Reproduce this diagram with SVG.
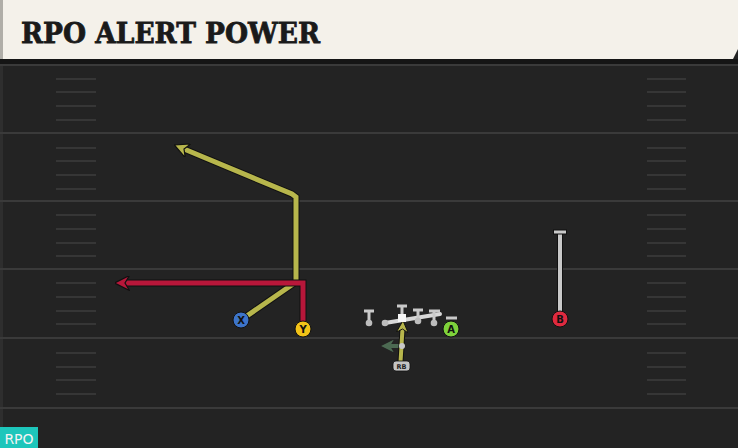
<svg xmlns="http://www.w3.org/2000/svg" width="738" height="448" viewBox="0 0 738 448">
<defs>
<style>
.yard{stroke:#3a3a3a;stroke-width:2}
.hash{stroke:#363636;stroke-width:2}
.out{fill:none;stroke:#111;stroke-width:7;stroke-linejoin:miter;stroke-linecap:butt}
.yel{fill:none;stroke:#b7b64c;stroke-width:5;stroke-linejoin:miter}
.red{fill:none;stroke:#b8173a;stroke-width:5;stroke-linejoin:miter}
.lbl{font-family:"DejaVu Sans",sans-serif;font-weight:bold;font-size:10px;fill:#111;text-anchor:middle}
</style>
<marker id="ahY" viewBox="0 0 10 10" refX="3" refY="5" markerWidth="3" markerHeight="3" orient="auto" markerUnits="strokeWidth">
<path d="M0,0 L10,5 L0,10 L3,5 Z" fill="#b7b64c" stroke="#111" stroke-width="0.8"/>
</marker>
<marker id="ahR" viewBox="0 0 10 10" refX="3" refY="5" markerWidth="3" markerHeight="3" orient="auto" markerUnits="strokeWidth">
<path d="M0,0 L10,5 L0,10 L3,5 Z" fill="#b8173a" stroke="#111" stroke-width="0.8"/>
</marker>
<marker id="ahG" viewBox="0 0 10 10" refX="3" refY="5" markerWidth="3.2" markerHeight="3.2" orient="auto" markerUnits="strokeWidth">
<path d="M0,0 L10,5 L0,10 L3,5 Z" fill="#4c6a52"/>
</marker>
</defs>

<!-- field -->
<rect x="0" y="0" width="738" height="448" fill="#232323"/>
<rect x="0" y="59" width="738" height="6" fill="#151515"/>
<rect x="0" y="65" width="3" height="383" fill="#2e2e2e"/>
<g id="field">
<line class="yard" x1="0" y1="65" x2="738" y2="65"/>
<line class="yard" x1="0" y1="133" x2="738" y2="133"/>
<line class="yard" x1="0" y1="201" x2="738" y2="201"/>
<line class="yard" x1="0" y1="269" x2="738" y2="269"/>
<line class="yard" x1="0" y1="338" x2="738" y2="338"/>
<line class="yard" x1="0" y1="408" x2="738" y2="408"/>
<g class="hash">
<line x1="56" y1="79" x2="96" y2="79"/><line x1="56" y1="92" x2="96" y2="92"/><line x1="56" y1="106" x2="96" y2="106"/><line x1="56" y1="120" x2="96" y2="120"/>
<line x1="56" y1="148" x2="96" y2="148"/><line x1="56" y1="161" x2="96" y2="161"/><line x1="56" y1="175" x2="96" y2="175"/><line x1="56" y1="189" x2="96" y2="189"/>
<line x1="56" y1="215" x2="96" y2="215"/><line x1="56" y1="229" x2="96" y2="229"/><line x1="56" y1="243" x2="96" y2="243"/><line x1="56" y1="256" x2="96" y2="256"/>
<line x1="56" y1="283" x2="96" y2="283"/><line x1="56" y1="297" x2="96" y2="297"/><line x1="56" y1="311" x2="96" y2="311"/><line x1="56" y1="324" x2="96" y2="324"/>
<line x1="56" y1="353" x2="96" y2="353"/><line x1="56" y1="367" x2="96" y2="367"/><line x1="56" y1="380" x2="96" y2="380"/><line x1="56" y1="394" x2="96" y2="394"/>
<line x1="647" y1="79" x2="686" y2="79"/><line x1="647" y1="92" x2="686" y2="92"/><line x1="647" y1="106" x2="686" y2="106"/><line x1="647" y1="120" x2="686" y2="120"/>
<line x1="647" y1="148" x2="686" y2="148"/><line x1="647" y1="161" x2="686" y2="161"/><line x1="647" y1="175" x2="686" y2="175"/><line x1="647" y1="189" x2="686" y2="189"/>
<line x1="647" y1="215" x2="686" y2="215"/><line x1="647" y1="229" x2="686" y2="229"/><line x1="647" y1="243" x2="686" y2="243"/><line x1="647" y1="256" x2="686" y2="256"/>
<line x1="647" y1="283" x2="686" y2="283"/><line x1="647" y1="297" x2="686" y2="297"/><line x1="647" y1="311" x2="686" y2="311"/><line x1="647" y1="324" x2="686" y2="324"/>
<line x1="647" y1="353" x2="686" y2="353"/><line x1="647" y1="367" x2="686" y2="367"/><line x1="647" y1="380" x2="686" y2="380"/><line x1="647" y1="394" x2="686" y2="394"/>
</g>
</g>

<!-- title -->
<g id="title">
<path d="M0,0 H738 V49 L733,59 H0 Z" fill="#f4f1ea"/>
<rect x="0" y="0" width="3" height="59" fill="#b0aea8"/>
<text x="21" y="43" font-family="'DejaVu Serif',serif" font-weight="bold" font-size="28" fill="#1a1a1a" stroke="#1a1a1a" stroke-width="0.8" textLength="299" lengthAdjust="spacingAndGlyphs">RPO ALERT POWER</text>
</g>

<!-- connectors -->
<g id="connectors">
<path class="out" d="M241,320 L296,282 V197 L292,194 L184,149"/>
<path class="yel" d="M241,320 L296,282 V197 L292,194 L184,149" marker-end="url(#ahY)"/>
<path class="out" d="M303,328 V283 H125"/>
<path class="red" d="M303,328 V283 H125" marker-end="url(#ahR)"/>
<path d="M560,319 V232" stroke="#111" stroke-width="6" fill="none"/>
<path d="M560,319 V232" stroke="#c9c9c9" stroke-width="4" fill="none"/>
<line x1="553" y1="232" x2="567" y2="232" stroke="#111" stroke-width="5"/>
<line x1="554" y1="232" x2="566" y2="232" stroke="#c9c9c9" stroke-width="3"/>
<line x1="446" y1="318" x2="457" y2="318" stroke="#c9c9c9" stroke-width="3"/>
<!-- blocking line -->
<line x1="385" y1="323" x2="440" y2="314" stroke="#d8d8d8" stroke-width="4" stroke-linecap="round"/>
<!-- RB handoff -->
<line x1="401" y1="346" x2="390" y2="346" stroke="#4c6a52" stroke-width="4" marker-end="url(#ahG)"/>
<line x1="400.5" y1="362" x2="402.5" y2="329" stroke="#111" stroke-width="6"/>
<line x1="400.5" y1="362" x2="402.5" y2="329" stroke="#b7b64c" stroke-width="4" marker-end="url(#ahY)"/>
<circle cx="402" cy="346" r="3" fill="#c8c8c8"/>
</g>

<!-- offensive line -->
<g id="ol1">
<path d="M369,323 V311 M364,311 H374" stroke="#c9c9c9" stroke-width="3" fill="none"/>
<circle cx="369" cy="323" r="3.3" fill="#bdbdbd"/>
</g>
<g id="ol2">
<circle cx="385" cy="323" r="3.3" fill="#bdbdbd"/>
</g>
<g id="center">
<path d="M402,318 V306 M397,306 H407" stroke="#c9c9c9" stroke-width="3" fill="none"/>
<rect x="398" y="314" width="8" height="8" fill="#f5f5f5"/>
</g>
<g id="ol3">
<path d="M418,321 V310 M413,310 H423" stroke="#c9c9c9" stroke-width="3" fill="none"/>
<circle cx="418" cy="321" r="3.3" fill="#bdbdbd"/>
</g>
<g id="ol4">
<path d="M434,323 V311 M429,311 H440" stroke="#c9c9c9" stroke-width="3" fill="none"/>
<circle cx="434" cy="323" r="3.3" fill="#bdbdbd"/>
</g>

<!-- skill players -->
<g id="X">
<circle cx="241" cy="320" r="8" fill="#3d74c9" stroke="#111" stroke-width="1"/>
<text class="lbl" x="241" y="324">X</text>
</g>
<g id="Y">
<circle cx="303" cy="329" r="8" fill="#f2c318" stroke="#111" stroke-width="1"/>
<text class="lbl" x="303" y="333">Y</text>
</g>
<g id="A">
<circle cx="451" cy="329" r="8" fill="#7ed23b" stroke="#111" stroke-width="1"/>
<text class="lbl" x="451" y="333">A</text>
</g>
<g id="B">
<circle cx="560" cy="319" r="8" fill="#df2a3f" stroke="#111" stroke-width="1"/>
<text class="lbl" x="560" y="323">B</text>
</g>
<g id="RB">
<rect x="393" y="361" width="17" height="10" rx="3" fill="#c4c4c4" stroke="#111" stroke-width="0.8"/>
<text x="401.5" y="369" font-family="'DejaVu Sans',sans-serif" font-size="6.5" font-weight="bold" fill="#222" text-anchor="middle">RB</text>
</g>

<!-- badge -->
<g id="badge">
<rect x="0" y="427" width="38" height="21" fill="#1dc6bb"/>
<text x="19" y="444" font-family="'DejaVu Sans',sans-serif" font-size="14" fill="#f4f4f4" text-anchor="middle">RPO</text>
</g>
</svg>
